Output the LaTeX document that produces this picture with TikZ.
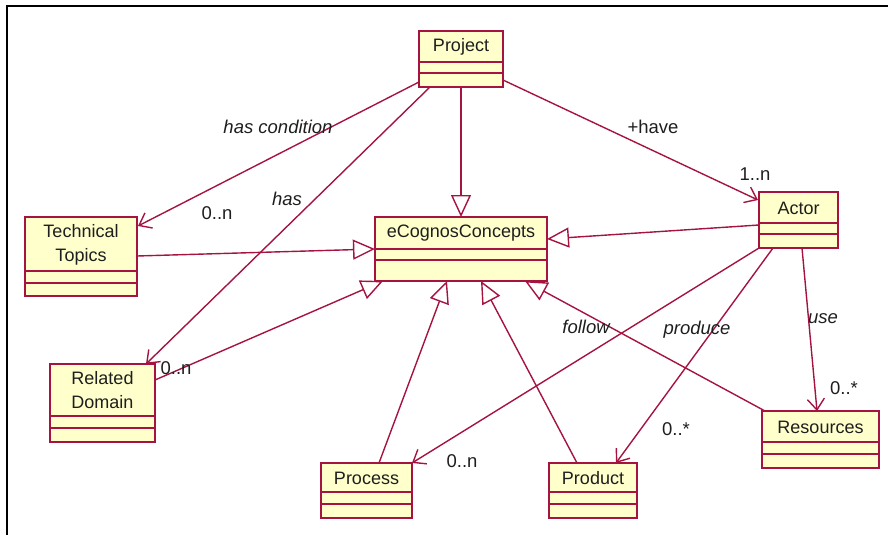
\documentclass[tikz,border=0pt]{standalone}
\usepackage{fontspec}
\setmainfont{Liberation Sans}
\usetikzlibrary{arrows.meta,calc}
\definecolor{umlred}{RGB}{165,20,65}
\definecolor{umlfill}{RGB}{255,255,204}
\definecolor{txt}{RGB}{30,30,30}
\begin{document}
\begin{tikzpicture}[x=1pt,y=-1pt,
 cls/.style={draw=umlred, fill=umlfill, line width=1.4pt, inner sep=0pt, outer sep=0pt, anchor=north west, rectangle},
 sep/.style={draw=umlred, line width=1.4pt},
 ctext/.style={font=\fontsize{18}{23.5}\selectfont, align=center, inner sep=0pt, text=txt},
 elabel/.style={font=\fontsize{18.5}{20}\selectfont\itshape, inner sep=0pt, text=txt},
 mult/.style={font=\fontsize{18.5}{20}\selectfont, inner sep=0pt, text=txt},
 assoc/.style={draw=umlred, line width=1.4pt, -{Straight Barb[length=11pt,width=17pt,line width=1.4pt]}},
 gen/.style={draw=umlred, line width=1.4pt, -{Triangle[open,length=22pt,width=20pt,line width=1.4pt,fill=white]}}
]
\useasboundingbox (0,0) rectangle (888,535);
% frame
\draw[black, line width=2pt] (6.5,535) -- (6.5,6.5) -- (888,6.5);

% classes
\node[cls, minimum width=84pt, minimum height=56pt] (proj) at (419,31) {};
\draw[sep] (419,62) -- (503,62); \draw[sep] (419,73) -- (503,73);
\node[ctext] (projname) at (461,46.5) {Project};

\node[cls, minimum width=112pt, minimum height=79pt] (tt) at (25,217) {};
\draw[sep] (25,271) -- (137,271); \draw[sep] (25,283) -- (137,283);
\node[ctext] (ttname) at (81,245) {Technical\\Topics};

\node[cls, minimum width=172pt, minimum height=64pt] (eco) at (375,217) {};
\draw[sep] (375,249) -- (547,249); \draw[sep] (375,260) -- (547,260);
\node[ctext] (econame) at (461,233) {eCognosConcepts};

\node[cls, minimum width=79pt, minimum height=56pt] (actor) at (759,192) {};
\draw[sep] (759,223) -- (838,223); \draw[sep] (759,234) -- (838,234);
\node[ctext] (actorname) at (798.5,208) {Actor};

\node[cls, minimum width=105pt, minimum height=78pt] (rd) at (50,364) {};
\draw[sep] (50,416) -- (155,416); \draw[sep] (50,428) -- (155,428);
\node[ctext] (rdname) at (102.5,390) {Related\\Domain};

\node[cls, minimum width=91pt, minimum height=55pt] (proc) at (321,463) {};
\draw[sep] (321,492) -- (412,492); \draw[sep] (321,504) -- (412,504);
\node[ctext] (procname) at (366.5,478) {Process};

\node[cls, minimum width=88pt, minimum height=55pt] (prod) at (549,463) {};
\draw[sep] (549,492) -- (637,492); \draw[sep] (549,504) -- (637,504);
\node[ctext] (prodname) at (593,478) {Product};

\node[cls, minimum width=117pt, minimum height=57pt] (res) at (762,411) {};
\draw[sep] (762,442) -- (879,442); \draw[sep] (762,454) -- (879,454);
\node[ctext] (resname) at (820.5,427) {Resources};

% generalizations
\draw[gen] (proj.south) -- (eco.north);
\draw[gen] ($(tt.north east)+(0,39)$) -- ($(eco.north west)+(0,32)$);
\draw[gen] ($(actor.north west)+(0,33)$) -- ($(eco.north east)+(0,22)$);
\draw[gen] ($(rd.north east)+(0,16)$) -- ($(eco.south west)+(8,0)$);
\draw[gen] ($(proc.north west)+(58,0)$) -- ($(eco.south west)+(72,0)$);
\draw[gen] ($(prod.north west)+(28,0)$) -- ($(eco.south west)+(106,0)$);
\draw[gen] ($(res.north west)+(3,0)$) -- ($(eco.south west)+(150,0)$);

% associations
\draw[assoc] ($(proj.north west)+(0,51)$) -- ($(tt.north east)+(1,9)$);
\draw[assoc] ($(proj.south west)+(11,0)$) -- ($(rd.north west)+(96,0)$);
\draw[assoc] ($(proj.north east)+(0,49)$) -- ($(actor.north west)+(-1,8)$);
\draw[assoc] (actor.south west) -- (proc.north east);
\draw[assoc] ($(actor.south west)+(14,0)$) -- ($(prod.north west)+(67,0)$);
\draw[assoc] ($(actor.south west)+(43,0)$) -- ($(res.north west)+(55,0)$);

% labels
\node[elabel] (lhascond) at (278,127) {has condition};
\node[elabel] (lhas) at (287,199) {has};
\node[mult] (mtt) at (217,213) {0..n};
\node[mult] (mrd) at (176,368) {0..n};
\node[mult] (lhave) at (653,127) {+have};
\node[mult] (mactor) at (755,174) {1..n};
\node[elabel] (lfollow) at (586,327) {follow};
\node[elabel] (lproduce) at (697,330) {produce};
\node[mult] (mprod) at (676,429) {0..*};
\node[elabel] (luse) at (823,319) {use};
\node[mult] (mres) at (844,388) {0..*};
\node[mult] (mproc) at (462,461) {0..n};
\end{tikzpicture}
\end{document}
